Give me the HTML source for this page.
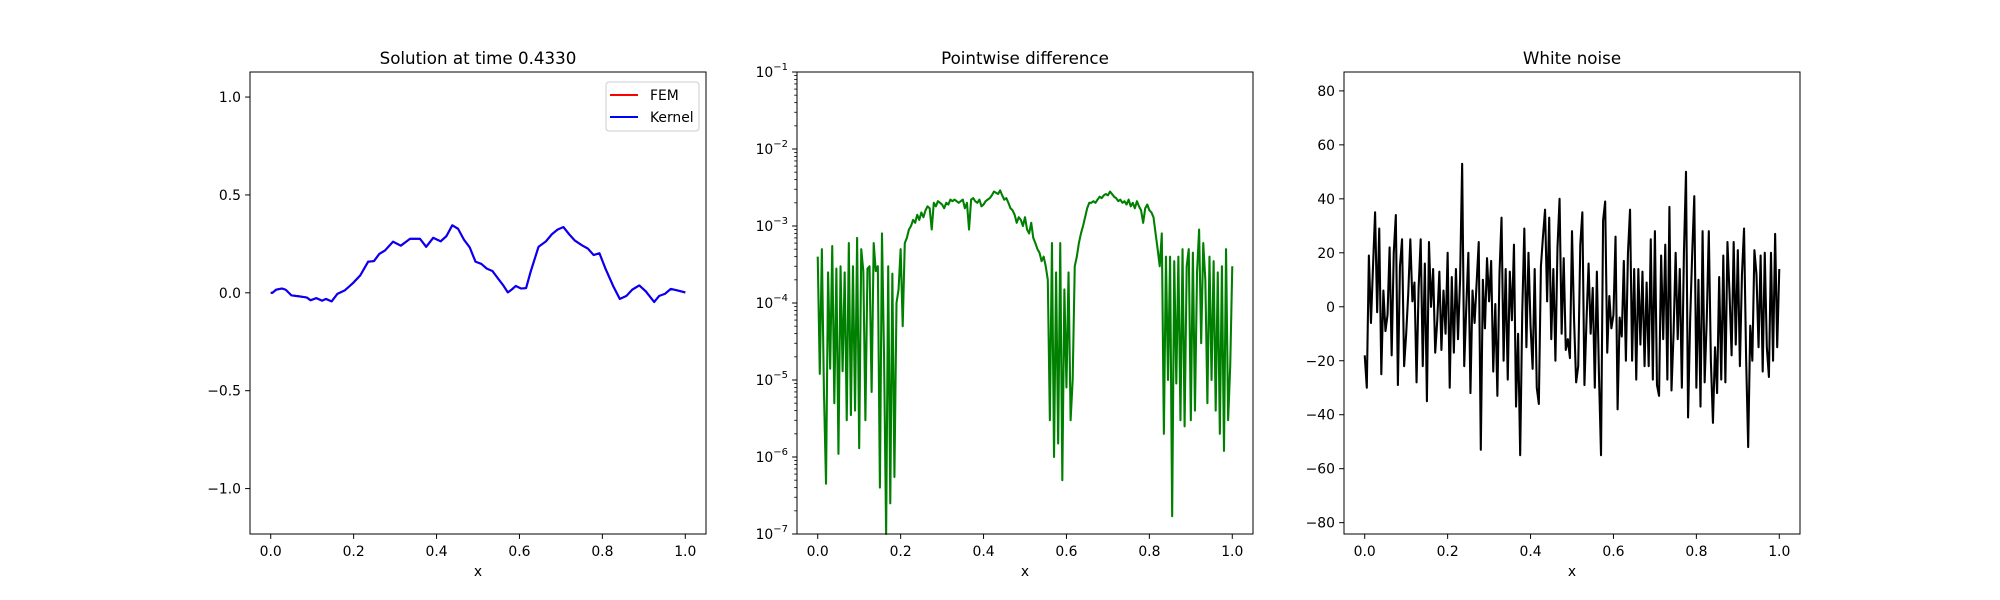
<!DOCTYPE html>
<html><head><meta charset="utf-8"><style>
body{margin:0;background:#fff}
svg{display:block;font-family:"DejaVu Sans","Liberation Sans",sans-serif}
</style></head><body>
<svg id="fig" width="2000" height="600" viewBox="0 0 2000 600" xmlns="http://www.w3.org/2000/svg">
<rect width="2000" height="600" fill="#fff"/>
</svg>
<script>
// Panel 1: solution
const solX = [0,.004,.013,.027,.036,.05,.068,.087,.096,.11,.124,.133,.147,.161,.179,.198,.216,.235,.249,.262,.276,.295,.314,.336,.36,.375,.392,.41,.424,.438,.452,.466,.48,.494,.508,.521,.535,.549,.561,.572,.581,.591,.604,.616,.627,.646,.664,.678,.692,.706,.72,.733,.752,.765,.779,.793,.807,.826,.842,.858,.872,.889,.905,.925,.937,.951,.965,.983,1.0];
const femY = [0,0,.016,.022,.016,-.013,-.018,-.024,-.038,-.027,-.04,-.031,-.044,-.005,.013,.049,.089,.159,.162,.199,.217,.261,.241,.276,.276,.235,.281,.263,.29,.345,.327,.272,.232,.159,.148,.124,.111,.071,.038,.002,.016,.035,.022,.024,.108,.235,.263,.299,.323,.336,.299,.268,.241,.226,.193,.202,.126,.035,-.031,-.016,.016,.038,.007,-.047,-.016,-.005,.02,.011,.002];
const kernelY = [0,0,.016,.022,.016,-.013,-.018,-.024,-.038,-.027,-.04,-.031,-.044,-.005,.013,.049,.089,.159,.162,.199,.217,.261,.241,.276,.276,.235,.281,.263,.29,.345,.327,.272,.232,.159,.148,.124,.111,.071,.038,.002,.016,.035,.022,.024,.108,.235,.263,.299,.323,.336,.299,.268,.241,.226,.193,.202,.126,.035,-.031,-.016,.016,.038,.007,-.047,-.016,-.005,.02,.011,.002];
const solYTicks = [-1.0,-0.5,0.0,0.5,1.0];
const solYTickLabels = ["\u22121.0","\u22120.5","0.0","0.5","1.0"];
const xTicks = [0,0.2,0.4,0.6,0.8,1.0];
const xTickLabels = ["0.0","0.2","0.4","0.6","0.8","1.0"];
// Panel 2: pointwise difference (evenly spaced on [0,1])
const diffY = [4e-4,1.2e-5,5e-4,7e-6,4.5e-7,2.5e-4,1.4e-5,5.5e-4,5e-6,2.8e-4,1.1e-6,3e-4,1.3e-5,2.5e-4,3e-6,6e-4,3.5e-6,3e-4,4e-6,7e-4,1.3e-6,5e-4,2.6e-4,3e-6,2.8e-4,3e-4,7e-6,6e-4,2.6e-4,3e-4,4e-7,8e-4,2e-5,1e-7,3e-4,2.5e-7,2.4e-4,5.5e-7,1e-4,
1.5e-4,5e-4,5e-5,6e-4,7e-4,9e-4,1e-3,1.2e-3,1.1e-3,1.4e-3,1.2e-3,1.5e-3,1.3e-3,1.6e-3,1.8e-3,1.7e-3,9e-4,2e-3,1.8e-3,2.1e-3,2e-3,1.9e-3,1.7e-3,2e-3,1.9e-3,2.2e-3,2.1e-3,2.2e-3,2.1e-3,2e-3,2.1e-3,2.2e-3,1.7e-3,2e-3,9e-4,2.2e-3,2.3e-3,2.1e-3,2e-3,2.2e-3,1.8e-3,1.9e-3,2.1e-3,2.2e-3,2.3e-3,2.5e-3,2.8e-3,2.7e-3,2.6e-3,2.9e-3,2.5e-3,2.2e-3,2.3e-3,2e-3,1.7e-3,1.6e-3,1.4e-3,1.1e-3,1.3e-3,1.2e-3,1e-3,1.3e-3,9e-4,8e-4,1.1e-3,7e-4,6e-4,5e-4,4.5e-4,3.5e-4,4e-4,3e-4,
2e-4,3e-6,6e-4,1e-6,2.5e-4,1.5e-6,6e-4,5e-7,1.5e-4,8e-6,2.5e-4,3e-6,1e-5,3e-4,
4e-4,6e-4,8e-4,1e-3,1.3e-3,1.7e-3,2e-3,2e-3,2.1e-3,2e-3,2.2e-3,2.4e-3,2.3e-3,2.5e-3,2.6e-3,2.5e-3,2.8e-3,2.6e-3,2.4e-3,2.3e-3,2.1e-3,2.2e-3,2e-3,2.1e-3,1.9e-3,2.2e-3,1.8e-3,2e-3,1.7e-3,2.1e-3,1.8e-3,1.6e-3,1.1e-3,1.7e-3,1.9e-3,1.6e-3,1.5e-3,1.3e-3,8e-4,5e-4,
3e-4,8e-4,2e-6,4e-4,1e-5,4e-4,1.7e-7,3.5e-4,9e-6,4e-4,3e-6,5e-4,2.5e-6,3e-4,5e-4,3e-6,4.5e-4,4e-6,2.5e-4,9e-4,3e-5,6e-4,2e-4,5e-6,4e-4,1e-5,3.5e-4,4e-6,2.5e-4,2e-6,3e-4,1.2e-6,5e-4,3e-6,1.5e-5,3e-4];
const diffDecades = [-7,-6,-5,-4,-3,-2,-1];
// Panel 3: white noise (evenly spaced on [0,1])
const noiseY = [-18,-30,19,-6,15,35,-2,29,-25,6,-9,-3,22,-18,20,34,-29,15,25,-22,-10,5,25,2,9,-28,7,25,-22,16,-35,24,0,14,-17,-5,13,-16,6,-10,20,-30,11,-17,14,-12,10,53,-22,0,20,-32,6,-6,9,24,-53,10,-8,18,2,17,-24,1,-33,12,33,-20,14,-27,13,-5,23,-37,-10,-55,-2,29,-15,20,-7,-23,14,-30,-36,15,26,36,2,33,-12,14,-20,22,40,-10,18,-16,-12,-19,28,-5,-28,-22,23,35,-29,-5,16,-10,7,-30,13,-25,-55,32,39,-17,4,-8,-3,26,-38,-4,-11,17,-20,20,36,-20,14,-27,14,-14,13,-22,9,-22,25,-27,28,-29,-33,19,-12,23,-27,37,-31,-10,20,-12,14,-30,20,50,-41,-5,20,41,-30,10,-37,28,-28,-5,28,-20,-43,-15,-32,11,-27,19,-28,24,5,-18,24,-14,21,-22,12,29,-19,-52,-7,-20,21,12,-15,19,-24,20,-15,-26,20,-20,27,-15,14];
const noiseYTicks = [-80,-60,-40,-20,0,20,40,60,80];
const noiseYTickLabels = ["\u221280","\u221260","\u221240","\u221220","0","20","40","60","80"];

const NS = "http://www.w3.org/2000/svg";
const svg = document.getElementById('fig');
function mk(tag, attrs, parent){const e=document.createElementNS(NS,tag);for(const k in attrs)e.setAttribute(k,attrs[k]);(parent||svg).appendChild(e);return e;}
const TOP=72, BOT=534, FS=13.9;
function linX(x0,x1){return v=>x0+(v+0.05)/1.1*(x1-x0);}
function linY(lo,hi){return v=>BOT-(v-lo)/(hi-lo)*(BOT-TOP);}

function axesFrame(name,x0,x1,title){
  const g=mk('g',{});
  
  
  const t=mk('text',{x:(x0+x1)/2,y:TOP-8,'text-anchor':'middle','font-size':16.7,fill:'#000'},g);
  
  
  t.textContent=title;
  return g;
}
function border(g,x0,x1){
  const r=mk('rect',{x:x0,y:TOP,width:x1-x0,height:BOT-TOP,fill:'none',stroke:'#000','stroke-width':1},g);
  
  
}
function xAxis(g,sx,x0,x1){
  xTicks.forEach((v,i)=>{
    const X=sx(v);
    mk('line',{x1:X,x2:X,y1:BOT,y2:BOT+4.9,stroke:'#000','stroke-width':1},g);
    const t=mk('text',{x:X,y:BOT+22,'text-anchor':'middle','font-size':FS},g);
    
    
    t.textContent=xTickLabels[i];
  });
  const xl=mk('text',{x:(x0+x1)/2,y:BOT+42,'text-anchor':'middle','font-size':FS},g);
  
  
  xl.textContent='x';
}
function yAxisLin(g,sy,x0,ticks,labels){
  ticks.forEach((v,i)=>{
    const Y=sy(v);
    mk('line',{x1:x0-4.9,x2:x0,y1:Y,y2:Y,stroke:'#000','stroke-width':1},g);
    const t=mk('text',{x:x0-9,y:Y+5,'text-anchor':'end','font-size':FS},g);
    
    
    t.textContent=labels[i];
  });
}
function line(g,xs,ys,sx,sy,color,name){
  let d='';
  for(let i=0;i<ys.length;i++){d+=(i?'L':'M')+sx(xs[i]).toFixed(2)+','+sy(ys[i]).toFixed(2);}
  const p=mk('path',{d:d,fill:'none',stroke:color,'stroke-width':2.08,'stroke-linejoin':'round'},g);
  
  
}
function evenX(n){const a=[];for(let i=0;i<n;i++)a.push(i/(n-1));return a;}

// Panel 1
{
  const x0=250,x1=706,sx=linX(x0,x1),sy=linY(-1.232,1.128);
  const g=axesFrame('solution-panel',x0,x1,'Solution at time 0.4330');
  const clipG=mk('g',{},g);
  line(clipG,solX,femY,sx,sy,'#ff0000','fem-line');
  line(clipG,solX,kernelY,sx,sy,'#0000ff','kernel-line');
  border(g,x0,x1);
  xAxis(g,sx,x0,x1);
  yAxisLin(g,sy,x0,solYTicks,solYTickLabels);
  const lg=mk('g',{},g);
  
  
  mk('rect',{x:606,y:82,width:93,height:49,rx:3,fill:'#fff','fill-opacity':0.8,stroke:'#ccc','stroke-width':1},lg);
  const l1=mk('line',{x1:610,x2:638,y1:95,y2:95,stroke:'#ff0000','stroke-width':2.08},lg);
  
  
  const t1=mk('text',{x:650,y:100,'font-size':FS},lg);
  
  
  t1.textContent='FEM';
  const l2=mk('line',{x1:610,x2:638,y1:117,y2:117,stroke:'#0000ff','stroke-width':2.08},lg);
  
  
  const t2=mk('text',{x:650,y:122,'font-size':FS},lg);
  
  
  t2.textContent='Kernel';
}
// Panel 2
{
  const x0=797,x1=1253,sx=linX(x0,x1);
  const sy=v=>BOT-(Math.log10(Math.max(v,1e-7))+7)/6*(BOT-TOP);
  const g=axesFrame('difference-panel',x0,x1,'Pointwise difference');
  line(g,evenX(diffY.length),diffY,sx,sy,'#008000','difference-line');
  border(g,x0,x1);
  xAxis(g,sx,x0,x1);
  diffDecades.forEach((k,i)=>{
    const Y=sy(Math.pow(10,k));
    mk('line',{x1:x0-4.9,x2:x0,y1:Y,y2:Y,stroke:'#000','stroke-width':1},g);
    const t=mk('text',{x:x0-9,y:Y+5,'text-anchor':'end','font-size':FS},g);
    
    
    const a=mk('tspan',{},t);a.textContent='10';
    const b=mk('tspan',{dy:-7,'font-size':10},t);b.textContent='\u2212'+(-k);
    if(i<diffDecades.length-1){
      for(let m=2;m<10;m++){
        const Ym=sy(m*Math.pow(10,k));
        mk('line',{x1:x0-2.8,x2:x0,y1:Ym,y2:Ym,stroke:'#000','stroke-width':0.8},g);
      }
    }
  });
}
// Panel 3
{
  const x0=1344,x1=1800,sx=linX(x0,x1),sy=linY(-84.2,87.0);
  const g=axesFrame('noise-panel',x0,x1,'White noise');
  line(g,evenX(noiseY.length),noiseY,sx,sy,'#000000','noise-line');
  border(g,x0,x1);
  xAxis(g,sx,x0,x1);
  yAxisLin(g,sy,x0,noiseYTicks,noiseYTickLabels);
}
</script>
</body></html>
